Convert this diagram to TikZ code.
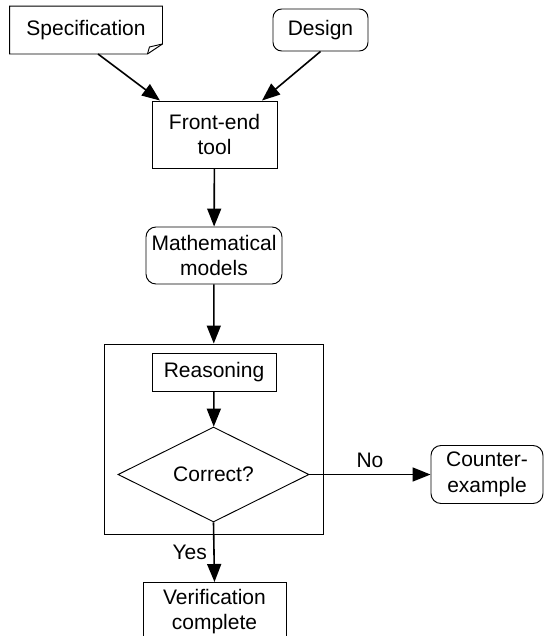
\documentclass[tikz,border=0pt]{standalone}
\usepackage{fontspec}
\setmainfont{Liberation Sans}
\usetikzlibrary{arrows.meta,shapes.geometric,calc}
\begin{document}
\begin{tikzpicture}[x=0.75pt,y=-0.75pt,
  base/.style={font=\fontsize{15.75}{19}\selectfont, align=center, inner sep=0pt, line width=0.7pt},
  box/.style={base, draw, rectangle},
  rbox/.style={base, draw, rectangle, rounded corners=6.5pt},
  plain/.style={base, draw=none},
  outl/.style={line width=0.7pt},
  arr/.style={line width=1.2pt, -{Triangle[length=13.5pt,width=10.5pt]}}]
\clip (0,0) rectangle (544,636);
% nodes
\node[plain, minimum width=114pt, minimum height=35.25pt] (spec) at (86,30) {Specification};
\draw[outl] (spec.north west) -- (spec.north east) -- ($(spec.south east)+(0,-10)$) -- ($(spec.south east)+(-15,0)$) -- (spec.south west) -- cycle;
\draw[outl] ($(spec.south east)+(0,-10)$) -- ($(spec.south east)+(-13,-7)$) -- ($(spec.south east)+(-15,0)$);
\node[rbox, minimum width=71.25pt, minimum height=31.5pt] (design) at (320.5,30) {Design};
\node[box, minimum width=93.75pt, minimum height=50.25pt] (front) at (214.5,134.5) {Front-end\\tool};
\node[rbox, rounded corners=7.5pt, minimum width=102pt, minimum height=42.75pt] (math) at (214,255.5) {Mathematical\\models};
\node[box, minimum width=164.25pt, minimum height=142.5pt] (outer) at (213.5,439) {};
\node[box, minimum width=93pt, minimum height=28.5pt] (reason) at (214,372) {Reasoning};
\node[base, draw, diamond, aspect=2, minimum width=143.25pt, minimum height=71.25pt] (dec) at (213.5,474.5) {Correct?};
\node[rbox, rounded corners=7.5pt, minimum width=84pt, minimum height=43.5pt] (counter) at (487,474.5) {Counter-\\example};
\node[box, minimum width=107.25pt, minimum height=43.5pt, anchor=north] (verif) at (214.5,582) {Verification\\complete};
% connectors
\draw[arr] ($(spec.south)+(12,0)$) -- ($(front.north)+(-54.5,0)$);
\draw[arr] (design.south) -- ($(front.north)+(47.5,0)$);
\draw[arr] (front) -- (math);
\draw[arr] (math) -- (outer);
\draw[arr] (reason) -- (dec);
\draw[arr] (dec.east) -- node[plain, above=5pt] {No} (dec.east -| counter.west);
\draw[arr] (dec.south) -- node[plain, left=5pt] {Yes} (verif.north);
\end{tikzpicture}
\end{document}
